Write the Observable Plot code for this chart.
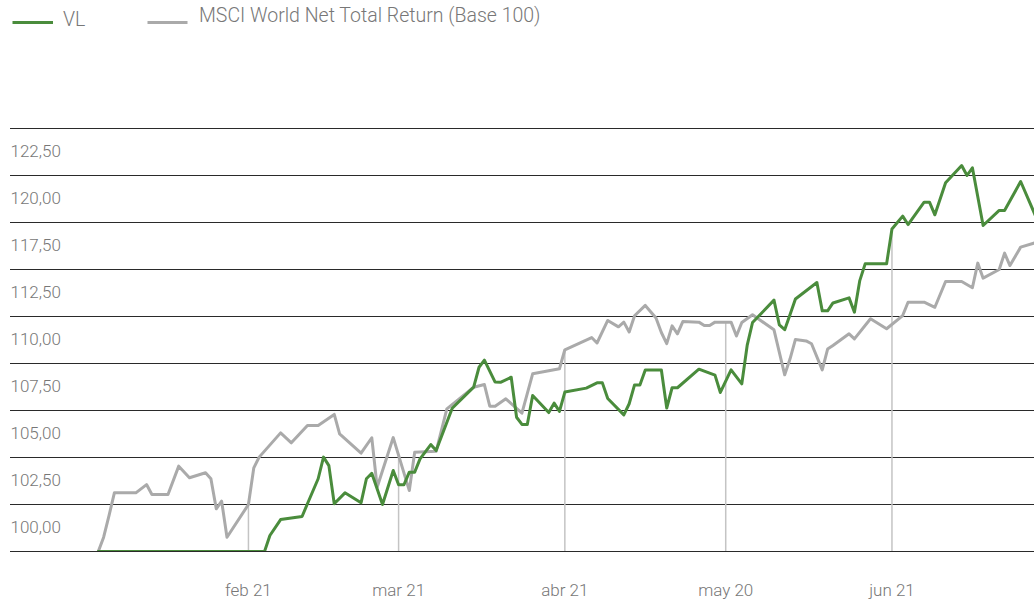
<!DOCTYPE html>
<html>
<head>
<meta charset="utf-8">
<script src="https://cdn.jsdelivr.net/npm/d3@7"></script>
<script src="https://cdn.jsdelivr.net/npm/@observablehq/plot@0.6"></script>
<style>
  body { margin: 0; background: #fff; font-family: Roboto, sans-serif; }
  #legend { display: block; }
  #chart svg { display: block; }
</style>
</head>
<body>
<svg id="legend" width="1034" height="40"></svg>
<div id="chart"></div>
<script>
// ---- Series names & colours ----
const seriesNames = ["VL", "MSCI World Net Total Return (Base 100)"];
const seriesColors = ["#4a8c3c", "#aaaaaa"];

// ---- VL ----
const vlDates = ["2021-01-04",
  "2021-02-04","2021-02-05","2021-02-07","2021-02-11","2021-02-12","2021-02-14","2021-02-15","2021-02-16","2021-02-17","2021-02-19","2021-02-22","2021-02-23","2021-02-24","2021-02-26","2021-02-28",
  "2021-03-01","2021-03-02","2021-03-03","2021-03-04","2021-03-05","2021-03-07","2021-03-08","2021-03-11","2021-03-15","2021-03-16","2021-03-17","2021-03-19","2021-03-20","2021-03-22","2021-03-23","2021-03-24","2021-03-25","2021-03-26","2021-03-29","2021-03-30","2021-03-31",
  "2021-04-01","2021-04-05","2021-04-07","2021-04-08","2021-04-09","2021-04-12","2021-04-13","2021-04-14","2021-04-15","2021-04-16","2021-04-19","2021-04-20","2021-04-21","2021-04-22","2021-04-26","2021-04-29","2021-04-30",
  "2021-05-02","2021-05-04","2021-05-05","2021-05-06","2021-05-10","2021-05-11","2021-05-12","2021-05-13","2021-05-14","2021-05-18","2021-05-19","2021-05-20","2021-05-21","2021-05-24","2021-05-25","2021-05-26","2021-05-27","2021-05-31",
  "2021-06-01","2021-06-03","2021-06-04","2021-06-07","2021-06-08","2021-06-09","2021-06-11","2021-06-14","2021-06-15","2021-06-16","2021-06-18","2021-06-21","2021-06-22","2021-06-25","2021-06-28"];
const vlValues = [100.00,
  100.00,100.85,101.70,101.86,102.54,103.87,105.02,104.57,102.54,103.12,102.59,103.87,104.16,102.50,104.31,
  103.55,103.55,104.22,104.22,104.93,105.69,105.37,107.62,108.74,109.80,110.18,109.01,109.00,109.27,107.14,106.76,106.76,108.30,107.39,107.89,107.45,
  108.48,108.69,108.97,108.97,108.14,107.27,107.86,108.86,108.86,109.65,109.65,107.63,108.71,108.71,109.70,109.38,108.46,
  109.66,108.92,110.96,112.18,113.37,112.05,111.80,112.60,113.43,114.31,112.80,112.80,113.22,113.49,112.73,114.41,115.30,115.30,
  117.15,117.84,117.39,118.58,118.58,117.91,119.61,120.53,120.00,120.41,117.34,118.14,118.14,119.68,117.70];

// ---- MSCI World Net Total Return (Base 100) ----
const msciDates = ["2021-01-04","2021-01-05","2021-01-06","2021-01-07","2021-01-11","2021-01-13","2021-01-14","2021-01-17","2021-01-19","2021-01-21","2021-01-24","2021-01-25","2021-01-26","2021-01-27","2021-01-28",
  "2021-02-01","2021-02-02","2021-02-03","2021-02-07","2021-02-09","2021-02-12","2021-02-14","2021-02-17","2021-02-18","2021-02-22","2021-02-24","2021-02-25","2021-02-28",
  "2021-03-03","2021-03-04","2021-03-08","2021-03-10","2021-03-15","2021-03-17","2021-03-18","2021-03-19","2021-03-21","2021-03-24","2021-03-26","2021-03-31",
  "2021-04-01","2021-04-06","2021-04-07","2021-04-09","2021-04-11","2021-04-12","2021-04-13","2021-04-14","2021-04-16","2021-04-18","2021-04-19","2021-04-20","2021-04-21","2021-04-22","2021-04-23","2021-04-26","2021-04-27","2021-04-28","2021-04-29",
  "2021-05-02","2021-05-03","2021-05-04","2021-05-06","2021-05-10","2021-05-12","2021-05-13","2021-05-14","2021-05-16","2021-05-17","2021-05-19","2021-05-20","2021-05-21","2021-05-24","2021-05-25","2021-05-28","2021-05-31",
  "2021-06-03","2021-06-04","2021-06-07","2021-06-09","2021-06-11","2021-06-14","2021-06-16","2021-06-17","2021-06-18","2021-06-21","2021-06-22","2021-06-23","2021-06-25","2021-06-28"];
const msciValues = [100.00,100.76,101.91,103.12,103.12,103.56,103.03,103.03,104.54,103.92,104.19,103.87,102.27,102.68,100.76,
  102.50,104.45,105.02,106.31,105.78,106.70,106.70,107.29,106.26,105.23,106.05,103.42,106.06,
  103.24,105.28,105.33,107.59,108.74,108.88,107.73,107.73,108.12,107.36,109.45,109.72,
  110.73,111.38,111.09,112.29,111.95,112.20,111.68,112.54,113.09,112.42,111.65,111.06,112.00,111.58,112.23,112.20,112.02,112.02,112.20,
  112.20,111.46,112.18,112.59,111.79,109.40,110.25,111.28,111.20,111.05,109.66,110.77,110.96,111.58,111.31,112.38,111.85,
  112.55,113.26,113.26,112.99,114.36,114.36,114.03,115.34,114.54,115.00,115.87,115.21,116.19,116.45];

// ---- Axes ----
const gridValues = [100, 102.5, 105, 107.5, 110, 112.5, 115, 117.5, 120, 122.5];
const yTickLabels = ["100,00","102,50","105,00","107,50","110,00","112,50","117,50","120,00","122,50"];
const monthTicks = ["2021-02-01","2021-03-01","2021-04-01","2021-05-01","2021-06-01"];
const xTickLabels = ["feb 21","mar 21","abr 21","may 20","jun 21"];

// ---- build tables ----
const parse = d3.utcParse("%Y-%m-%d");
const vl = vlDates.map((d, i) => ({date: parse(d), value: vlValues[i]}));
const msci = msciDates.map((d, i) => ({date: parse(d), value: msciValues[i]}));
const months = monthTicks.map(parse);
const yLabels = yTickLabels.map((t, i) => ({label: t, y: (gridValues[i] + gridValues[i + 1]) / 2}));

function valueAt(series, date) {
  const t = +date;
  for (let i = 0; i < series.length - 1; i++) {
    const a = series[i], b = series[i + 1];
    if (t >= +a.date && t <= +b.date) {
      const f = (+b.date === +a.date) ? 0 : (t - a.date) / (b.date - a.date);
      return a.value + f * (b.value - a.value);
    }
  }
  return series[series.length - 1].value;
}
const dropTop = d => Math.max(valueAt(vl, d), valueAt(msci, d));

// ---- legend ----
const lg = d3.select("#legend");
const legendItems = [{x: 12.5, w: 40.5, tx: 63, ty: 26}, {x: 147.5, w: 40, tx: 199, ty: 22}];
legendItems.forEach((it, i) => {
  lg.append("line").attr("x1", it.x).attr("x2", it.x + it.w).attr("y1", 22.5).attr("y2", 22.5)
    .attr("stroke", seriesColors[i]).attr("stroke-width", 3);
  lg.append("text").attr("x", it.tx).attr("y", it.ty).text(seriesNames[i])
    .attr("fill", "#777").attr("font-family", "Roboto, sans-serif").attr("font-weight", 300)
    .attr("font-size", "19.5px");
});

// ---- chart ----
const day = 864e5;
const jan4 = Date.UTC(2021, 0, 4);
const chart = Plot.plot({
  width: 1034,
  height: 567,
  marginTop: 88,
  marginBottom: 56,
  marginLeft: 10,
  marginRight: 0,
  x: {type: "utc", domain: [new Date(jan4 - 16.37 * day), new Date(jan4 + 174.58 * day)], axis: null},
  y: {domain: [100, 122.5], axis: null},
  style: {fontFamily: "Roboto, sans-serif", background: "#fff", color: "#777"},
  marks: [
    Plot.ruleY(gridValues, {stroke: "#2a2a2a", strokeWidth: 1}),
    Plot.ruleX(months, {x: d => d, y1: 100, y2: dropTop, stroke: "#c4c4c4", strokeWidth: 1.5}),
    Plot.line(msci, {x: "date", y: "value", stroke: seriesColors[1], strokeWidth: 3, clip: true}),
    Plot.line(vl, {x: "date", y: "value", stroke: seriesColors[0], strokeWidth: 3, clip: true}),
    Plot.text(yLabels, {y: "y", text: "label", frameAnchor: "left", textAnchor: "start",
      fill: "#777", fontSize: 17, fontWeight: 300}),
    Plot.text(months, {x: d => d, text: (d, i) => xTickLabels[i], frameAnchor: "bottom", dy: 44,
      fill: "#777", fontSize: 17, fontWeight: 300})
  ]
});
document.getElementById("chart").appendChild(chart);
</script>
</body>
</html>
